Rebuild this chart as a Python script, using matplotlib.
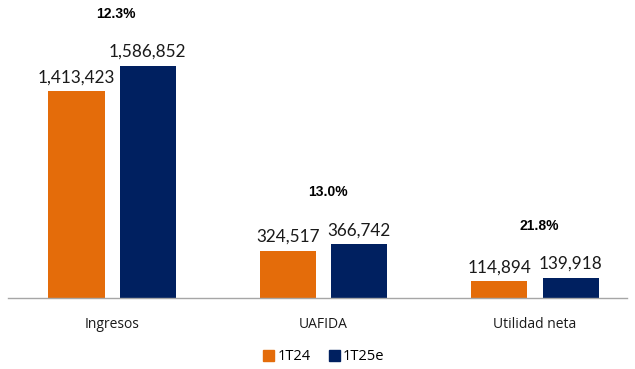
import matplotlib
matplotlib.use("Agg")
import matplotlib.pyplot as plt
from matplotlib.patches import Patch

categories = ["Ingresos", "UAFIDA", "Utilidad neta"]
series_names = ["1T24", "1T25e"]
values_1t24 = [1413423, 324517, 114894]
values_1t25e = [1586852, 366742, 139918]
growth_labels = ["12.3%", "13.0%", "21.8%"]

ORANGE = "#E46C0A"
NAVY = "#002060"
LABEL_FONT = ["Open Sans", "DejaVu Sans"]

fig = plt.figure(figsize=(6.35, 3.69), dpi=100)
ax = fig.add_axes([8 / 635, (369 - 298) / 369, 619 / 635, 298 / 369])

x = list(range(len(categories)))
width = 0.265
offset = 0.168

bars_a = ax.bar([i - offset for i in x], values_1t24, width, color=ORANGE)
bars_b = ax.bar([i + offset for i in x], values_1t25e, width, color=NAVY)

ax.set_xlim(-0.492, 2.435)
ax.set_ylim(0, 1586852 * 298 / 232)

num_font = dict(family=["Lato", "DejaVu Sans"], fontsize=12.3, color="#1a1a1a")
for bars in (bars_a, bars_b):
    for b in bars:
        h = b.get_height()
        ax.annotate(f"{h:,.0f}", (b.get_x() + b.get_width() / 2, h),
                    xytext=(0, 6), textcoords="offset pixels",
                    ha="center", va="bottom", **num_font)

for i, lab in enumerate(growth_labels):
    top = max(values_1t24[i], values_1t25e[i])
    ax.annotate(lab, (i + 0.02, top), xytext=(0, 45), textcoords="offset pixels",
                ha="center", va="bottom", fontsize=10, fontweight="bold",
                family=["Liberation Sans", "DejaVu Sans"], color="black")

for s in ["top", "right", "left"]:
    ax.spines[s].set_visible(False)
ax.spines["bottom"].set_color("#A6A6A6")
ax.spines["bottom"].set_linewidth(1.0)
ax.set_yticks([])
ax.set_xticks(x)
ax.set_xticklabels(categories, fontsize=10, family=LABEL_FONT, color="#1a1a1a")
ax.tick_params(axis="x", length=0, pad=14)

handles = [Patch(color=ORANGE, label=series_names[0]), Patch(color=NAVY, label=series_names[1])]
fig.legend(handles=handles, loc="center", bbox_to_anchor=(324 / 635, 1 - 357 / 369),
           ncol=2, frameon=False, handlelength=0.7, handleheight=0.7,
           handletextpad=0.25, columnspacing=1.3,
           prop=dict(family=LABEL_FONT, size=10.5))

fig.savefig("out.png", dpi=100)
